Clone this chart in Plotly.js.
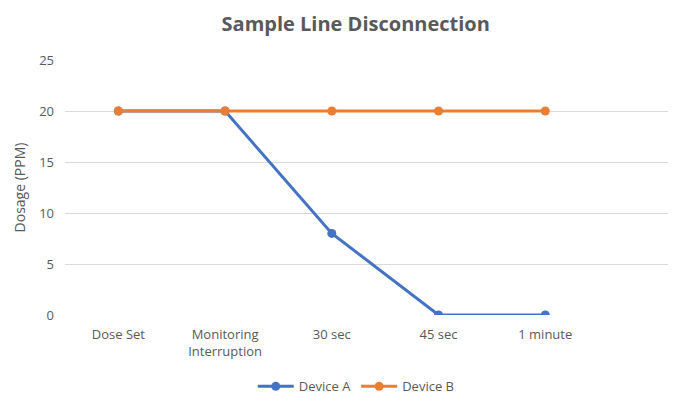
<!DOCTYPE html>
<html>
<head>
<meta charset="utf-8">
<script src="https://cdn.plot.ly/plotly-3.0.1.min.js"></script>
<style>html,body{margin:0;padding:0;background:#fff;}#chart{width:688px;height:394px;}</style>
</head>
<body>
<div id="chart"></div>
<script>
const categories = ['Dose Set', 'Monitoring Interruption', '30 sec', '45 sec', '1 minute'];
const tickLabels = ['Dose Set', 'Monitoring<br>Interruption', '30 sec', '45 sec', '1 minute'];
const deviceA = [20, 20, 8, 0, 0];
const deviceB = [20, 20, 20, 20, 20];
const yTicks = [0, 5, 10, 15, 20, 25];

const font = 'Open Sans, Noto Sans, sans-serif';
const traces = [
  {x: categories, y: deviceA, name: 'Device A', type: 'scatter', mode: 'lines+markers',
   line: {color: '#4472C4', width: 3}, marker: {color: '#4472C4', size: 9}},
  {x: categories, y: deviceB, name: 'Device B', type: 'scatter', mode: 'lines+markers',
   line: {color: '#ED7D31', width: 3}, marker: {color: '#ED7D31', size: 9}}
];
const layout = {
  width: 688, height: 394,
  margin: {l: 65, r: 20, t: 60, b: 79, autoexpand: false},
  paper_bgcolor: '#fff', plot_bgcolor: '#fff',
  font: {family: font, color: '#595959', size: 13},
  title: {text: '<b>Sample Line Disconnection</b>', x: 0.517, xref: 'container', y: 0.938, yref: 'container',
          yanchor: 'middle', font: {family: font, size: 20, color: '#595959'}},
  showlegend: true,
  legend: {orientation: 'h', x: 0.483, xanchor: 'center', y: -0.28, yanchor: 'middle', itemwidth: 36,
           font: {family: font, size: 13, color: '#595959'}},
  xaxis: {type: 'category', range: [-0.5, 5.15], tickvals: categories, ticktext: tickLabels,
          showgrid: false, zeroline: false, showline: false, ticks: '', ticklabelstandoff: 10,
          tickfont: {size: 13, color: '#595959'}},
  yaxis: {range: [0, 25], tickvals: yTicks, showgrid: true, gridcolor: '#D9D9D9', gridwidth: 1,
          zeroline: false, showline: false, ticks: '', ticklabelstandoff: 10,
          title: {text: 'Dosage (PPM)', font: {size: 14, color: '#595959'}, standoff: 10},
          tickfont: {size: 13, color: '#595959'}}
};
Plotly.newPlot('chart', traces, layout, {displayModeBar: false, staticPlot: true});
</script>
</body>
</html>
